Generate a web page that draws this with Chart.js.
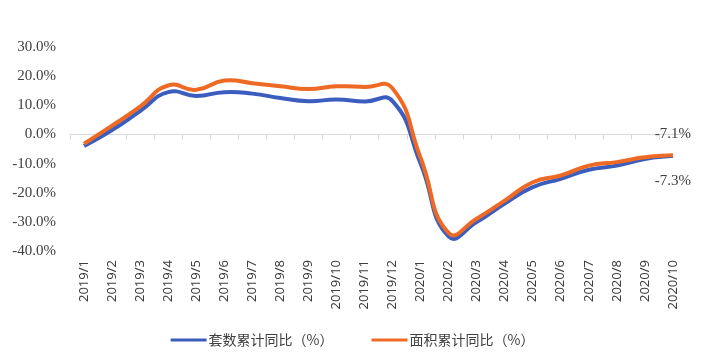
<!DOCTYPE html>
<html>
<head>
<meta charset="utf-8">
<script src="https://cdn.jsdelivr.net/npm/chart.js@4/dist/chart.umd.min.js"></script>
<style>
html,body{margin:0;padding:0;background:#fff;}
#wrap{width:705px;height:357px;position:relative;}
</style>
</head>
<body>
<div id="wrap"><canvas id="c" width="705" height="357"></canvas></div>
<script>
const categories = ['2019/1','2019/2','2019/3','2019/4','2019/5','2019/6','2019/7','2019/8','2019/9','2019/10','2019/11','2019/12','2020/1','2020/2','2020/3','2020/4','2020/5','2020/6','2020/7','2020/8','2020/9','2020/10'];
const unitsYoY = [-4.0, 1.5, 8.0, 14.5, 13.2, 14.5, 14.0, 12.5, 11.4, 12.0, 11.3, 11.4, -10.0, -35.0, -30.1, -23.7, -18.1, -15.2, -12.1, -10.7, -8.4, -7.3];
const areaYoY = [-3.2, 3.0, 9.5, 16.8, 15.3, 18.5, 17.6, 16.5, 15.6, 16.5, 16.3, 15.8, -8.0, -33.8, -28.9, -22.7, -16.4, -14.1, -10.7, -9.5, -7.8, -7.1];
const seriesNames = ['套数累计同比（%）', '面积累计同比（%）'];
const seriesColors = ['#3A5DBE', '#EE6A24'];
const yMin = -40, yMax = 30, yStep = 10;

const zeroTicks = {
  id: 'zeroTicks',
  beforeDatasetsDraw(chart) {
    const x = chart.scales.x, y = chart.scales.y, ctx = chart.ctx;
    const n = categories.length;
    const step = x.getPixelForValue(1) - x.getPixelForValue(0);
    const y0 = Math.round(y.getPixelForValue(0)) + 0.5;
    ctx.save();
    ctx.strokeStyle = '#D9D9D9';
    ctx.lineWidth = 1;
    ctx.beginPath();
    for (let i = 0; i <= n; i++) {
      const px = Math.round(x.getPixelForValue(0) - step / 2 + i * step) + 0.5;
      ctx.moveTo(px, y0);
      ctx.lineTo(px, y0 + 5);
    }
    ctx.stroke();
    ctx.restore();
  }
};

const endLabels = {
  id: 'endLabels',
  afterDatasetsDraw(chart) {
    const ctx = chart.ctx;
    const last = categories.length - 1;
    const mBlue = chart.getDatasetMeta(0).data[last];
    const mOrange = chart.getDatasetMeta(1).data[last];
    ctx.save();
    ctx.font = '15px "Liberation Serif", "Times New Roman", serif';
    ctx.fillStyle = '#404040';
    ctx.textAlign = 'center';
    ctx.textBaseline = 'middle';
    ctx.fillText(areaYoY[last].toFixed(1) + '%', mOrange.x, mOrange.y - 21);
    ctx.fillText(unitsYoY[last].toFixed(1) + '%', mBlue.x, mBlue.y + 25);
    ctx.restore();
  }
};

const customLegend = {
  id: 'customLegend',
  afterDraw(chart) {
    const ctx = chart.ctx;
    ctx.save();
    ctx.font = '14px "Noto Sans CJK SC", sans-serif';
    ctx.textBaseline = 'middle';
    const boxW = 36, gapText = 2, gapItem = 38, cy = 340;
    const widths = seriesNames.map(t => ctx.measureText(t).width);
    const total = widths.reduce((a, w) => a + boxW + gapText + w, 0) + gapItem * (seriesNames.length - 1);
    let x = 352.5 - total / 2;
    seriesNames.forEach((t, i) => {
      ctx.fillStyle = seriesColors[i];
      ctx.fillRect(x, cy - 1.5, boxW, 3);
      ctx.fillStyle = '#404040';
      ctx.fillText(t, x + boxW + gapText, cy);
      x += boxW + gapText + widths[i] + gapItem;
    });
    ctx.restore();
  }
};

new Chart(document.getElementById('c'), {
  type: 'line',
  data: {
    labels: categories,
    datasets: [
      { label: seriesNames[0], data: unitsYoY, borderColor: seriesColors[0], backgroundColor: seriesColors[0], borderWidth: 4, pointRadius: 0, tension: 0.5, fill: false, order: 1 },
      { label: seriesNames[1], data: areaYoY, borderColor: seriesColors[1], backgroundColor: seriesColors[1], borderWidth: 4, pointRadius: 0, tension: 0.5, fill: false, order: 0 }
    ]
  },
  options: {
    responsive: false,
    animation: false,
    layout: { padding: { top: 47, right: 18, bottom: 33.5, left: 0 } },
    plugins: { legend: { display: false }, tooltip: { enabled: false } },
    scales: {
      x: {
        offset: true,
        grid: { display: false, drawTicks: false },
        border: { display: false },
        ticks: { autoSkip: false, minRotation: 90, maxRotation: 90, padding: 9, color: '#404040', font: { family: '"Noto Sans", sans-serif', size: 13 } },
        afterFit(s) { s.height = 72.5; }
      },
      y: {
        min: yMin, max: yMax,
        grid: { drawTicks: false, color: c => (c.tick && c.tick.value === 0) ? '#D9D9D9' : 'rgba(0,0,0,0)', lineWidth: 1 },
        border: { display: false },
        ticks: { stepSize: yStep, padding: 14, color: '#404040', font: { family: '"Liberation Serif", "Times New Roman", serif', size: 15 }, callback: v => v.toFixed(1) + '%' },
        afterFit(s) { s.width = 70; }
      }
    }
  },
  plugins: [zeroTicks, endLabels, customLegend]
});
</script>
</body>
</html>
